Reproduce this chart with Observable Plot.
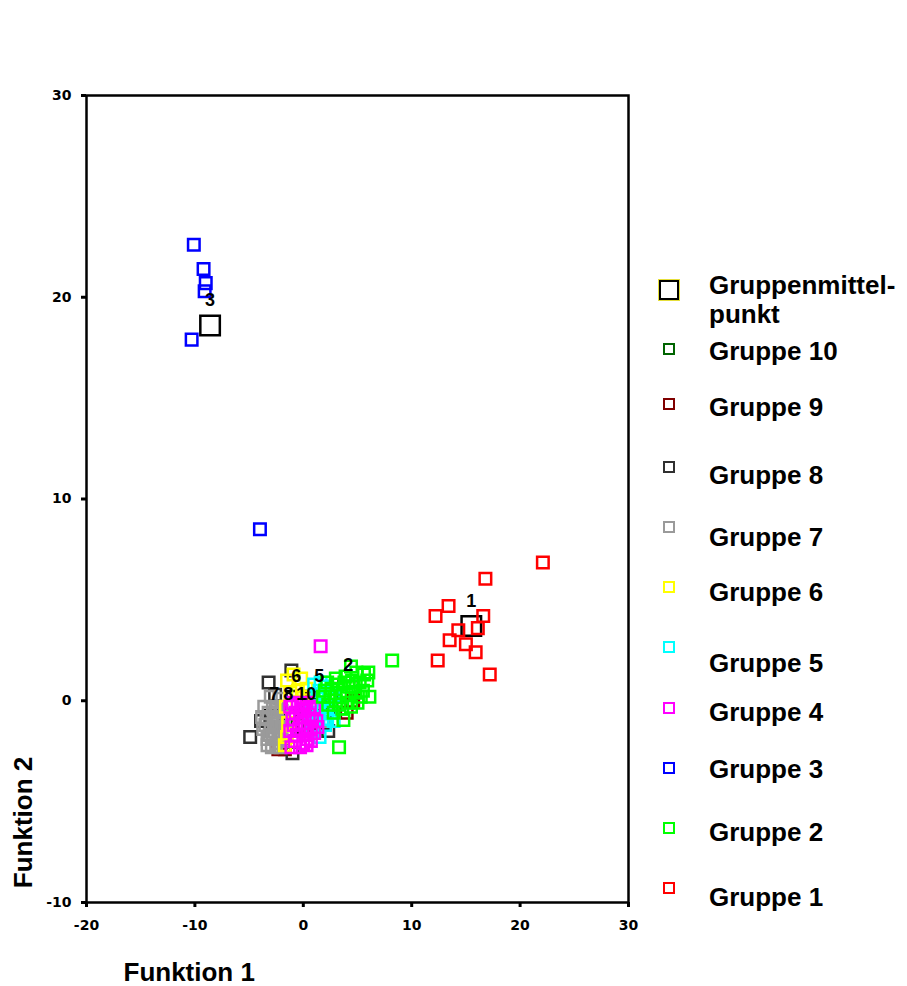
<!DOCTYPE html>
<html><head><meta charset="utf-8">
<script src="https://cdn.jsdelivr.net/npm/d3@7"></script>
<script src="https://cdn.jsdelivr.net/npm/@observablehq/plot@0.6"></script>
<style>
body{margin:0;background:#fff;}
#wrap{position:relative;width:907px;height:986px;overflow:hidden;}
#legend{position:absolute;left:0;top:0;width:907px;height:986px;pointer-events:none;font-family:"Liberation Sans",Arial,sans-serif;font-weight:bold;font-size:26px;color:#000;}
.sym{position:absolute;box-sizing:border-box;border:2.5px solid #000;}
.lab{position:absolute;left:709px;white-space:nowrap;line-height:1;transform:translateY(-50%);}
</style>
</head><body><div id="wrap"></div>
<script>
// ---- data (Funktion 1, Funktion 2) per group ----
const group1 = [[22.1,6.85],[16.8,6.05],[13.4,4.7],[12.2,4.2],[16.6,4.2],[14.3,3.5],[16.1,3.6],[13.5,3.0],[15.0,2.8],[15.9,2.4],[12.4,2.0],[17.2,1.3]];
const group2 = [[8.2,2.0],[6.1,0.2],[3.7,-0.95],[3.3,-2.3],[6.0,1.4],[4.9,1.4],[5.6,1.3],[5.2,0.9],[4.5,1.0],[3.9,1.2],[3.2,0.8],[2.6,0.6],[2.0,0.5],[4.0,0.3],[4.8,0.4],[5.5,0.5],[3.0,0.0],[2.3,-0.2],[4.4,-0.3],[3.6,-0.4],[2.8,-0.6],[1.8,0.2],[5.0,-0.1],[3.4,0.4],[4.2,0.7],[5.9,1.0],[3.8,0.9],[4.6,0.7],[2.5,0.2],[3.3,-0.2],[4.1,-0.1],[5.3,0.2],[2.2,0.9],[4.4,1.7],[3.0,1.1]];
const group3 = [[-10.1,22.6],[-9.2,21.4],[-9.0,20.7],[-9.1,20.3],[-10.3,17.9],[-4.0,8.5]];
const group4 = [[1.6,2.7],[-1.2,-0.3],[-0.5,-0.2],[0.3,-0.1],[1.0,-0.4],[-1.0,-0.9],[-0.3,-0.8],[0.5,-0.7],[1.2,-1.0],[-1.2,-1.5],[-0.4,-1.4],[0.4,-1.3],[1.0,-1.6],[-0.8,-2.0],[0.0,-2.1],[0.7,-2.0],[-0.2,-0.4],[0.2,-1.7],[-1.1,-2.3],[0.3,-2.2],[-0.7,-0.6],[0.1,-0.5],[0.8,-0.9],[-0.9,-1.2],[-0.1,-1.1],[0.7,-1.4],[-0.6,-1.7],[0.4,-1.9],[-0.3,-2.3],[1.3,-1.3],[-1.0,-0.1],[0.6,-0.3]];
const group5 = [[1.0,0.8],[1.6,0.9],[2.2,0.7],[1.3,0.3],[2.0,0.1],[2.8,0.3],[1.1,-0.3],[1.8,-0.5],[2.5,-0.6],[1.2,-1.0],[2.0,-1.2],[0.8,-1.5],[1.5,-1.8],[2.8,-1.0],[0.6,-0.6],[1.5,0.5],[2.4,-0.2],[1.4,-0.8],[2.2,-0.9],[1.9,0.4],[0.9,-1.0]];
const group6 = [[-1.5,1.0],[-0.9,1.3],[-0.2,1.1],[0.3,0.6],[-1.2,0.4],[-0.5,0.5],[-1.6,-0.3],[-1.4,-1.1],[-1.5,-1.8],[0.0,0.2],[-1.7,-2.2]];
const group7 = [[-3.0,0.2],[-2.2,0.1],[-3.6,-0.3],[-2.8,-0.4],[-2.0,-0.5],[-3.4,-0.9],[-2.6,-1.0],[-1.8,-1.1],[-3.7,-1.4],[-3.0,-1.5],[-2.2,-1.6],[-3.3,-1.9],[-2.5,-2.1],[-1.7,-2.0],[-2.9,-2.3],[-3.8,-0.8],[-2.4,-0.3],[-1.6,-1.5],[-3.2,-0.6],[-2.4,-0.8],[-3.5,-1.2],[-2.7,-1.3],[-2.0,-1.3],[-3.1,-1.7],[-2.3,-1.9],[-1.9,-0.8],[-2.6,-0.6],[-3.3,-2.2],[-2.1,-2.3],[-2.8,-1.8]];
const group8 = [[-4.9,-1.8],[-3.2,0.9],[-1.1,1.5],[-1.0,-2.6],[2.0,-1.1],[2.3,-1.5],[-2.6,0.3],[-3.9,-1.0]];
const group9 = [[-2.3,-2.4],[-1.7,-2.4],[4.6,0.0],[4.0,-0.6],[2.2,-0.5]];
const group10 = [[0.2,-0.6],[1.0,-0.2],[-0.5,-1.2],[2.6,-0.3],[0.8,-1.2]];

const groupNames = ["Gruppe 1","Gruppe 2","Gruppe 3","Gruppe 4","Gruppe 5","Gruppe 6","Gruppe 7","Gruppe 8","Gruppe 9","Gruppe 10"];
const groupColors = ["#ff0000","#00ff00","#0000ff","#ff00ff","#00ffff","#ffff00","#9a9a9a","#303030","#800000","#006400"];
const groupPoints = [group1,group2,group3,group4,group5,group6,group7,group8,group9,group10];

const centroidX = [15.5, 4.15, -8.6, 0.2, 1.47, -0.65, -2.67, -1.38, 0.9, 0.28];
const centroidY = [3.7, 0.5, 18.6, -1.1, 0.0, 0.0, -0.94, -0.94, -0.5, -0.94];
const centroidLabel = ["1","2","3","","5","6","7","8","","10"];

const xTicks = [-20,-10,0,10,20,30];
const yTicks = [-10,0,10,20,30];
const centroidLegend = ["Gruppenmittel-","punkt"];

// ---- build table: drawn from group 10 down to group 1 ----
const points = [];
for (let g = 9; g >= 0; g--) {
  for (const [x,y] of groupPoints[g]) points.push({x, y, color: groupColors[g]});
}
const centroids = centroidX.map((x,i) => ({x, y: centroidY[i], label: centroidLabel[i]}));

const W = 907, H = 986;
const chart = Plot.plot({
  width: W, height: H,
  marginLeft: 86, marginRight: 279, marginTop: 95, marginBottom: 84,
  x: {domain: [-20,30], ticks: xTicks},
  y: {domain: [-10,30], ticks: yTicks},
  color: {type: "identity"},
  style: {background: "#fff", fontFamily: "DejaVu Sans, sans-serif"},
  marks: [
    Plot.dot(centroids, {x: "x", y: "y", stroke: "#000", symbol: "square", r: 11, strokeWidth: 2.5, fill: "none"}),
    Plot.dot(points, {x: "x", y: "y", stroke: "color", symbol: "square", r: 6.5, strokeWidth: 2.5, fill: "none"}),
    Plot.text(centroids, {x: "x", y: "y", text: "label", dy: -25, fontSize: 18, fontWeight: "bold", fill: "#000", fontFamily: "Liberation Sans, Arial, sans-serif"}),
    Plot.frame({stroke: "#000", strokeWidth: 2.5}),
    Plot.axisX({ticks: xTicks, tickFormat: d => String(d), tickSize: 5, tickPadding: 13, strokeWidth: 3, fontSize: 14, fontWeight: "bold", label: null}),
    Plot.axisY({ticks: yTicks, tickFormat: d => String(d), tickSize: 5, tickPadding: 10, strokeWidth: 3, fontSize: 14, fontWeight: "bold", label: null}),
    Plot.text(["Funktion 1"], {frameAnchor: "bottom-left", dx: 37, dy: 70, textAnchor: "start", lineAnchor: "middle", fontSize: 26, fontWeight: "bold", fontFamily: "Liberation Sans, Arial, sans-serif", fill: "#000"}),
    Plot.text(["Funktion 2"], {frameAnchor: "bottom-left", dx: -63, dy: -80, rotate: -90, textAnchor: "middle", lineAnchor: "middle", fontSize: 26, fontWeight: "bold", fontFamily: "Liberation Sans, Arial, sans-serif", fill: "#000"})
  ]
});
const wrap = document.getElementById("wrap");
wrap.appendChild(chart);

// ---- legend (HTML overlay) ----
const legend = document.createElement("div");
legend.id = "legend";
wrap.appendChild(legend);
const symX = 669;
// layout: legend rows for Gruppe 10 .. Gruppe 1
const rowSymY = [349,404,467,527,587,647,708,768,828,888];
const rowTextY = [351,407,475,537,592,663,712,769,832,897];
function addSym(cx, cy, size, color, extra) {
  const s = document.createElement("div");
  s.className = "sym";
  s.style.left = (cx - size/2) + "px";
  s.style.top = (cy - size/2) + "px";
  s.style.width = size + "px";
  s.style.height = size + "px";
  s.style.borderColor = color;
  if (extra) s.style.boxShadow = extra;
  legend.appendChild(s);
}
function addLab(txt, cy) {
  const t = document.createElement("div");
  t.className = "lab";
  t.textContent = txt;
  t.style.top = cy + "px";
  legend.appendChild(t);
}
addSym(symX, 290, 20, "#000", "0 0 0 1px #e6df3a");
addLab(centroidLegend[0], 285);
addLab(centroidLegend[1], 314);
for (let i = 0; i < 10; i++) {
  const g = 9 - i;
  addSym(symX, rowSymY[i], 12, groupColors[g]);
  addLab(groupNames[g], rowTextY[i]);
}
</script>
</body></html>
